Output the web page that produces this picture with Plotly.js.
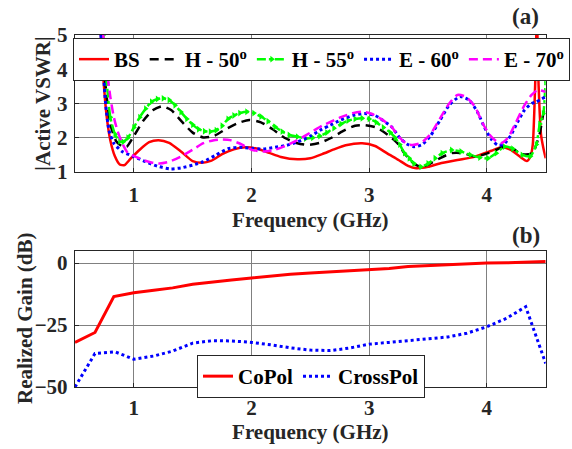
<!DOCTYPE html>
<html>
<head>
<meta charset="utf-8">
<script src="https://cdn.plot.ly/plotly-3.0.1.min.js"></script>
<style>html,body{margin:0;padding:0;background:#fff;}#chart{width:572px;height:449px;}</style>
</head>
<body>
<div id="chart"></div>
<script>
// ---- (a) Active VSWR ----
const bsF  = [0.72,0.74,0.77,0.80,0.84,0.88,0.92,0.97,1.05,1.13,1.21,1.30,1.40,1.50,1.58,1.66,1.75,1.85,1.95,2.05,2.15,2.25,2.39,2.50,2.60,2.70,2.80,2.94,3.05,3.15,3.25,3.33,3.40,3.50,3.60,3.75,3.90,4.04,4.12,4.20,4.28,4.34,4.37,4.39,4.41,4.425,4.44,4.46,4.48,4.50];
const bsV  = [5.0,3.8,2.6,1.93,1.45,1.22,1.20,1.38,1.65,1.87,1.93,1.85,1.60,1.32,1.27,1.33,1.52,1.66,1.72,1.68,1.56,1.44,1.37,1.40,1.52,1.66,1.78,1.84,1.76,1.55,1.35,1.18,1.11,1.15,1.25,1.35,1.45,1.62,1.72,1.65,1.45,1.32,1.45,1.8,3.5,5.5,3.5,2.1,1.7,1.4];

const h50F = [0.73,0.76,0.80,0.85,0.90,0.94,1.00,1.08,1.16,1.24,1.32,1.40,1.50,1.59,1.68,1.78,1.88,1.98,2.08,2.18,2.28,2.39,2.48,2.58,2.68,2.78,2.88,2.96,3.06,3.16,3.24,3.31,3.38,3.44,3.52,3.60,3.70,3.80,3.90,4.01,4.08,4.15,4.22,4.30,4.39,4.42,4.45,4.48,4.50];
const h50V = [5.0,3.5,2.4,1.9,1.75,1.74,2.05,2.5,2.8,2.92,2.8,2.5,2.15,2.01,2.05,2.25,2.42,2.52,2.45,2.25,2.0,1.84,1.79,1.85,2.0,2.2,2.35,2.37,2.3,2.08,1.84,1.5,1.25,1.15,1.25,1.4,1.55,1.55,1.45,1.55,1.65,1.74,1.68,1.52,1.55,1.8,2.13,2.7,2.9];

const h55F = [0.74,0.77,0.80,0.84,0.88,0.91,0.95,1.00,1.05,1.10,1.15,1.20,1.25,1.30,1.35,1.40,1.45,1.50,1.55,1.60,1.65,1.70,1.75,1.80,1.85,1.90,1.96,2.02,2.08,2.14,2.20,2.26,2.32,2.39,2.46,2.52,2.58,2.64,2.70,2.76,2.82,2.88,2.94,3.00,3.06,3.12,3.18,3.22,3.26,3.30,3.34,3.38,3.44,3.50,3.56,3.62,3.70,3.78,3.86,3.94,4.01,4.08,4.15,4.22,4.30,4.37,4.42,4.45,4.48,4.50];
const h55V = [5.0,3.6,2.6,2.1,1.9,1.88,2.0,2.3,2.6,2.85,3.05,3.13,3.15,3.1,2.95,2.75,2.55,2.38,2.25,2.19,2.18,2.22,2.35,2.55,2.65,2.72,2.76,2.72,2.62,2.48,2.32,2.18,2.08,2.03,1.98,2.0,2.05,2.15,2.28,2.4,2.5,2.55,2.57,2.55,2.45,2.3,2.15,2.0,1.8,1.55,1.4,1.25,1.15,1.25,1.4,1.55,1.64,1.6,1.5,1.42,1.40,1.55,1.74,1.68,1.5,1.46,1.8,2.4,2.71,3.7];

const e60F = [0.72,0.74,0.76,0.79,0.83,0.90,1.00,1.10,1.20,1.31,1.40,1.50,1.59,1.70,1.80,1.90,2.00,2.10,2.20,2.30,2.39,2.50,2.60,2.67,2.76,2.86,2.96,3.05,3.12,3.19,3.26,3.32,3.38,3.45,3.52,3.60,3.68,3.77,3.85,3.92,3.98,4.04,4.09,4.14,4.20,4.26,4.32,4.38,4.42,4.50];
const e60V = [5.0,4.0,3.0,2.2,1.84,1.6,1.45,1.3,1.17,1.09,1.12,1.2,1.30,1.5,1.68,1.72,1.69,1.67,1.72,1.78,1.88,2.05,2.25,2.37,2.52,2.65,2.71,2.65,2.5,2.32,2.0,1.82,1.74,1.8,2.05,2.5,2.95,3.2,3.1,2.75,2.3,1.95,1.79,1.8,2.05,2.45,2.81,3.0,3.05,3.2];

const e70F = [0.74,0.77,0.80,0.83,0.86,0.90,0.95,1.00,1.08,1.15,1.22,1.30,1.40,1.50,1.59,1.68,1.74,1.82,1.92,2.00,2.10,2.20,2.30,2.39,2.50,2.60,2.67,2.76,2.86,2.94,3.02,3.10,3.19,3.26,3.32,3.37,3.44,3.52,3.60,3.68,3.75,3.82,3.90,3.96,4.02,4.08,4.12,4.18,4.24,4.32,4.38,4.43,4.50];
const e70V = [5.0,4.0,3.2,2.6,2.22,1.85,1.55,1.47,1.35,1.28,1.25,1.3,1.45,1.65,1.84,1.93,1.95,1.93,1.8,1.65,1.6,1.65,1.78,1.93,2.15,2.35,2.46,2.6,2.72,2.76,2.7,2.55,2.32,2.0,1.82,1.79,1.85,2.1,2.55,3.0,3.25,3.2,2.9,2.45,2.1,1.9,1.84,2.0,2.4,2.95,3.25,3.39,3.34];

// ---- (b) Realized Gain ----
const coF = [0.5,0.67,0.83,1.0,1.17,1.33,1.5,1.67,1.83,2.0,2.17,2.33,2.5,2.67,2.83,3.0,3.17,3.33,3.5,3.67,3.83,4.0,4.17,4.33,4.5];
const coV = [-32,-28,-13.5,-12,-11,-10,-8.5,-7.5,-6.8,-6,-5.2,-4.5,-4,-3.5,-3.1,-2.6,-2.2,-1.4,-1.0,-0.6,-0.3,0,0.1,0.4,0.6];
const xpF = [0.5,0.67,0.84,1.0,1.17,1.33,1.5,1.67,1.83,2.0,2.17,2.33,2.5,2.67,2.83,3.0,3.17,3.33,3.5,3.67,3.83,4.0,4.17,4.33,4.5];
const xpV = [-50,-36.5,-35.8,-38.8,-37.5,-35.5,-32.3,-31.3,-31.4,-32.0,-33.0,-34.2,-35.1,-35.3,-34.3,-32.7,-32.0,-31.3,-30.6,-29.8,-28.3,-25.7,-22.2,-17.6,-40.5];

const xTicks = [1,2,3,4];
const yTicksA = [1,2,3,4,5];
const yTicksB = [0,-25,-50];
const namesA = ['BS','H - 50<sup>o</sup>','H - 55<sup>o</sup>','E - 60<sup>o</sup>','E - 70<sup>o</sup>'];
const namesB = ['CoPol','CrossPol'];

const FONT = '"Liberation Serif", "Times New Roman", serif';
const TXT = '#262626';
const FS = 21;
const W = 572, H = 449;

const traces = [
  {x: bsF, y: bsV, name: namesA[0], mode: 'lines', line: {color: '#ff0000', width: 2.5, shape: 'spline', smoothing: 0.6}, xaxis: 'x', yaxis: 'y'},
  {x: h50F, y: h50V, name: namesA[1], mode: 'lines', line: {color: '#000000', width: 2.5, dash: '9px,6px', shape: 'spline', smoothing: 0.6}, xaxis: 'x', yaxis: 'y'},
  {x: h55F, y: h55V, name: namesA[2], mode: 'lines+markers', line: {color: '#00ff00', width: 2.5, dash: 'dashdot', shape: 'spline', smoothing: 0.6}, marker: {symbol: 'triangle-right', size: 6, color: '#00ff00'}, xaxis: 'x', yaxis: 'y'},
  {x: e60F, y: e60V, name: namesA[3], mode: 'lines', line: {color: '#0000ff', width: 3, dash: 'dot', shape: 'spline', smoothing: 0.6}, xaxis: 'x', yaxis: 'y'},
  {x: e70F, y: e70V, name: namesA[4], mode: 'lines', line: {color: '#ff00ff', width: 2.5, dash: '9px,5px', shape: 'spline', smoothing: 0.6}, xaxis: 'x', yaxis: 'y'},
  {x: coF, y: coV, name: namesB[0], mode: 'lines', line: {color: '#ff0000', width: 3}, xaxis: 'x2', yaxis: 'y2', legend: 'legend2'},
  {x: xpF, y: xpV, name: namesB[1], mode: 'lines', line: {color: '#0000ff', width: 3, dash: 'dot'}, xaxis: 'x2', yaxis: 'y2', legend: 'legend2'}
];

const axBase = {
  showline: true, mirror: true, linecolor: TXT, linewidth: 1.2,
  showgrid: true, gridcolor: '#808080', gridwidth: 1,
  zeroline: false, ticks: 'inside', ticklen: 4, tickcolor: TXT,
  tickfont: {family: FONT, size: FS, color: TXT, weight: 'bold'}
};
const tFont = {family: FONT, size: FS, color: TXT, weight: 'bold'};

const xDom = [75/W, 545.7/W];
const layout = {
  width: W, height: H,
  margin: {l: 0, r: 0, t: 0, b: 0},
  paper_bgcolor: '#fff', plot_bgcolor: '#fff',
  font: {family: FONT, size: FS, color: TXT},
  xaxis: Object.assign({}, axBase, {domain: xDom, anchor: 'y', range: [0.5, 4.5], tickvals: xTicks, ticklabelstandoff: 4,
    title: {text: 'Frequency (GHz)', font: tFont, standoff: 5}}),
  yaxis: Object.assign({}, axBase, {domain: [1 - 172/H, 1 - 35/H], anchor: 'x', range: [1, 5], tickvals: yTicksA, ticklabelstandoff: 2,
    title: {text: '|Active VSWR|', font: tFont, standoff: 0}}),
  xaxis2: Object.assign({}, axBase, {domain: xDom, anchor: 'y2', range: [0.5, 4.5], tickvals: xTicks, ticklabelstandoff: 2,
    title: {text: 'Frequency (GHz)', font: tFont, standoff: 1}}),
  yaxis2: Object.assign({}, axBase, {domain: [1 - 387/H, 1 - 250.7/H], anchor: 'x2', range: [-50, 5], tickvals: yTicksB, ticklabelstandoff: 2}),
  legend: {orientation: 'h', x: 73/W, y: 1 - 38/H, xanchor: 'left', yanchor: 'top',
    bgcolor: '#fff', bordercolor: TXT, borderwidth: 1, font: {family: FONT, size: FS, color: '#000', weight: 'bold'},
    itemwidth: 30, tracegroupgap: 0},
  legend2: {orientation: 'h', x: 197/W, y: 1 - 355/H, xanchor: 'left', yanchor: 'top',
    bgcolor: '#fff', bordercolor: TXT, borderwidth: 1, font: {family: FONT, size: FS, color: '#000', weight: 'bold'},
    itemwidth: 30},
  annotations: [
    {text: '<b>(a)</b>', xref: 'paper', yref: 'paper', x: 525/W, y: 1 - 16/H, xanchor: 'center', yanchor: 'middle', showarrow: false, font: {family: FONT, size: 23, color: TXT}},
    {text: '<b>(b)</b>', xref: 'paper', yref: 'paper', x: 526/W, y: 1 - 235/H, xanchor: 'center', yanchor: 'middle', showarrow: false, font: {family: FONT, size: 23, color: TXT}},
    {text: 'Realized Gain (dB)', xref: 'paper', yref: 'paper', x: 25/W, y: 1 - 318/H, xanchor: 'center', yanchor: 'middle', textangle: -90, showarrow: false, font: tFont}
  ],
  showlegend: true
};

Plotly.newPlot('chart', traces, layout, {displayModeBar: false, staticPlot: true});
</script>
</body>
</html>
